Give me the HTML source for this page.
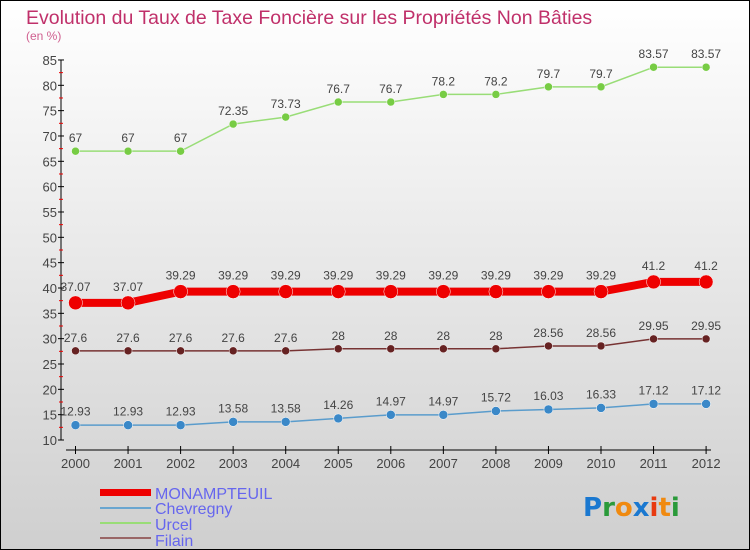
<!DOCTYPE html>
<html><head><meta charset="utf-8"><style>
body{margin:0}
#c{width:750px;height:550px;position:relative;box-sizing:border-box;border:1px solid #000;background:linear-gradient(#fff,#cfcfcf);font-family:"Liberation Sans",sans-serif;overflow:hidden}
</style></head><body>
<div id="c">
<svg id="s" width="750" height="550" style="position:absolute;left:-1px;top:-1px">
<text x="26" y="24" font-size="19.5" fill="#c0306a">Evolution du Taux de Taxe Foncière sur les Propriétés Non Bâties</text>
<text x="26" y="40" font-size="12" fill="#d06090">(en %)</text>
<g id="axes"></g><g id="series"></g>
<g>
<rect x="100" y="489" width="51" height="7" fill="#e00"/>
<text x="155" y="499" font-size="16" fill="#6666ee">MONAMPTEUIL</text>
<rect x="100" y="507" width="51" height="2" fill="#6aa6d0"/>
<text x="155" y="514" font-size="16" fill="#6666ee">Chevregny</text>
<rect x="100" y="522" width="51" height="2" fill="#99dd77"/>
<text x="155" y="530" font-size="16" fill="#6666ee">Urcel</text>
<rect x="100" y="537" width="51" height="2" fill="#996666"/>
<text x="155" y="546" font-size="16" fill="#6666ee">Filain</text>
</g>
<text x="583" y="516" font-size="26" font-family="DejaVu Sans" font-weight="bold"><tspan fill="#1a78d0">P</tspan><tspan fill="#2a9a3a">r</tspan><tspan fill="#f08a10">o</tspan><tspan fill="#1a78d0">x</tspan><tspan fill="#e83a10">i</tspan><tspan fill="#f08a10">t</tspan><tspan fill="#2a9a3a">i</tspan></text>
</svg>
</div>
<script>
const years=[2000,2001,2002,2003,2004,2005,2006,2007,2008,2009,2010,2011,2012];
const monampteuil=[37.07,37.07,39.29,39.29,39.29,39.29,39.29,39.29,39.29,39.29,39.29,41.2,41.2];
const chevregny=[12.93,12.93,12.93,13.58,13.58,14.26,14.97,14.97,15.72,16.03,16.33,17.12,17.12];
const urcel=[67,67,67,72.35,73.73,76.7,76.7,78.2,78.2,79.7,79.7,83.57,83.57];
const filain=[27.6,27.6,27.6,27.6,27.6,28,28,28,28,28.56,28.56,29.95,29.95];
const yTicks=[10,15,20,25,30,35,40,45,50,55,60,65,70,75,80,85];
const NS="http://www.w3.org/2000/svg";
const X=i=>75.5+i*52.55, Y=v=>440-(v-10)*5.067;
function mk(t,a,p){const e=document.createElementNS(NS,t);for(const k in a)e.setAttribute(k,a[k]);p.appendChild(e);return e;}
const ax=document.getElementById('axes');
let l=mk('line',{x1:61,y1:60,x2:61,y2:440,stroke:'#000','stroke-width':1},ax);

l=mk('line',{x1:66,y1:450,x2:711,y2:450,stroke:'#000','stroke-width':1},ax);

yTicks.forEach((v,i)=>{const y=Y(v);
 mk('line',{x1:58,y1:y,x2:64,y2:y,stroke:'#000'},ax);
 if(i<yTicks.length-1)mk('line',{x1:59,y1:Y(v+2.5),x2:63,y2:Y(v+2.5),stroke:'#e00'},ax);
 const t=mk('text',{x:57,y:y+5,'font-size':13,'text-anchor':'end',fill:'#444'},ax);t.textContent=v;
 });
years.forEach((yr,i)=>{const x=X(i);
 mk('line',{x1:x,y1:446,x2:x,y2:454,stroke:'#000'},ax);
 const t=mk('text',{x:x,y:468,'font-size':13,'text-anchor':'middle',fill:'#444'},ax);t.textContent=yr;
 });
const sg=document.getElementById('series');
function series(name,vals,col,w,r,dot){
 const g=mk('g',{},sg);
 const p=mk('polyline',{points:vals.map((v,i)=>X(i)+','+Y(v)).join(' '),fill:'none',stroke:col,'stroke-width':w},g);
 
 vals.forEach((v,i)=>{const c=mk('circle',{cx:X(i),cy:Y(v),r:r,fill:dot,stroke:'#fff','stroke-width':0.5},g);
  
  const t=mk('text',{x:X(i),y:Y(v)-(r+5),'font-size':12,'text-anchor':'middle',fill:'#444'},g);t.textContent=v;
  });
}
series('urcel',urcel,'#99dd77',1.5,4,'#77cc44');
series('filain',filain,'#773333',1.5,4,'#662222');
series('chevregny',chevregny,'#5a9ccc',1.5,4.5,'#3a88c8');
series('monampteuil',monampteuil,'#ee0000',8,7,'#ee0000');
</script>
</body></html>
